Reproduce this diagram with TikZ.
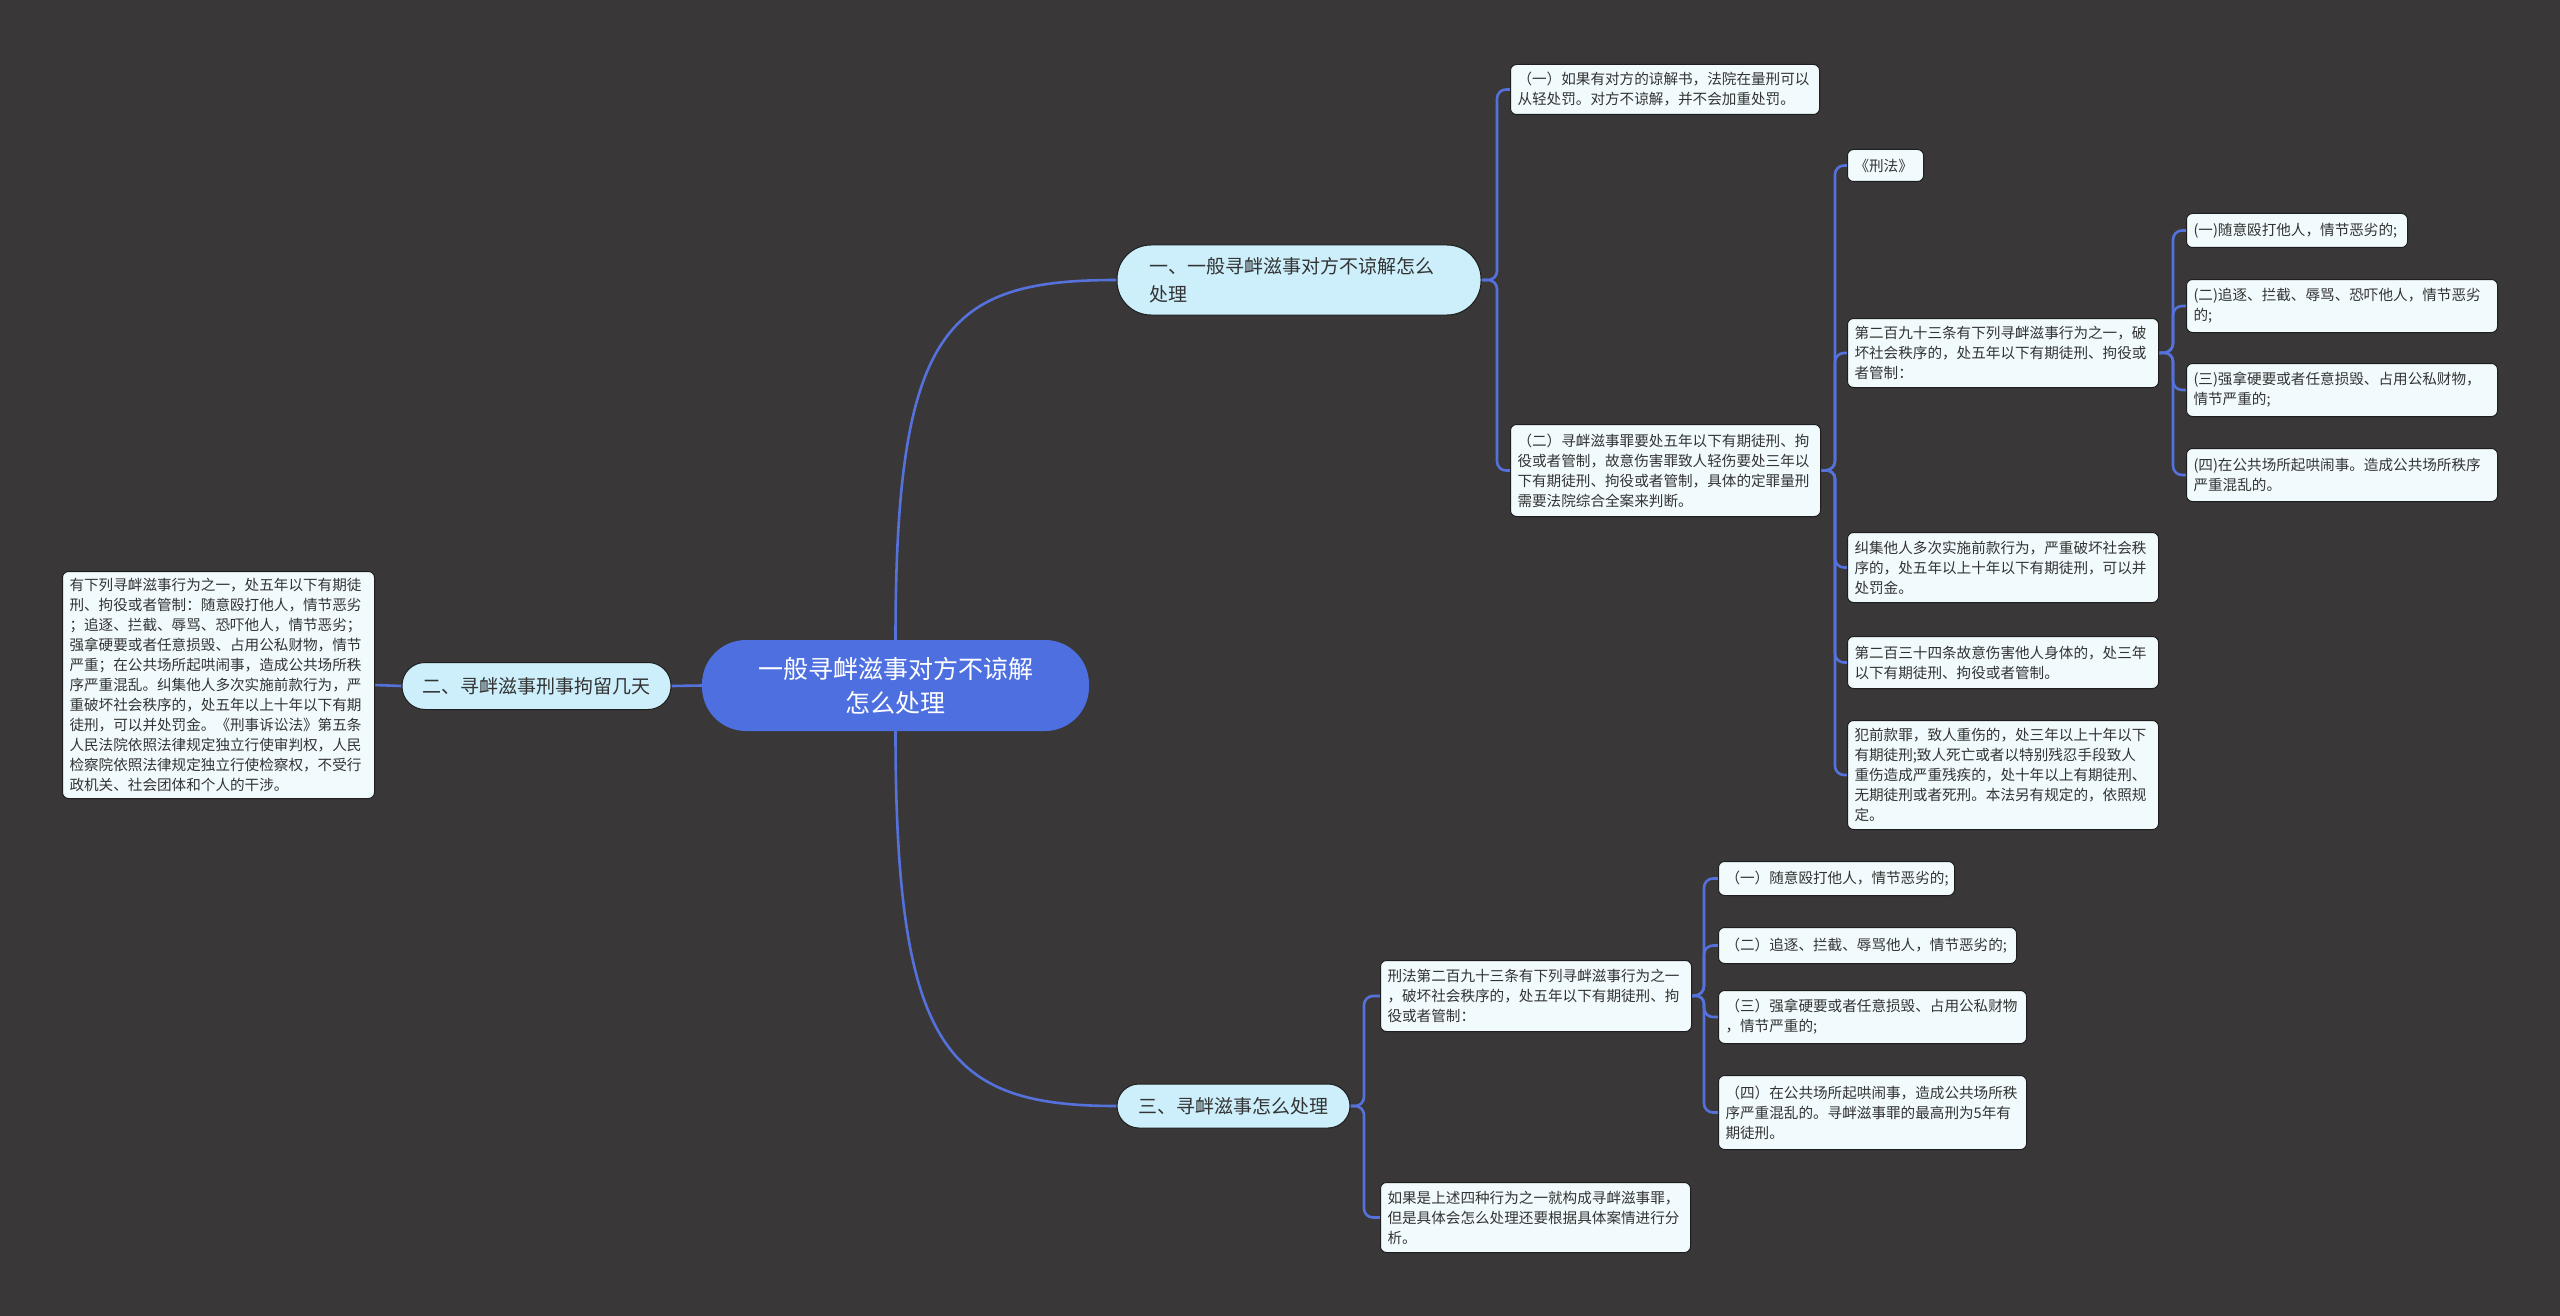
\documentclass[tikz,border=0pt]{standalone}
\usepackage{fontspec}
\setmainfont{Noto Sans CJK SC}
\usetikzlibrary{calc}
\pgfdeclarelayer{bglayer}
\pgfdeclarelayer{linelayer}
\pgfsetlayers{bglayer,linelayer,main}
\definecolor{bgc}{HTML}{393737}
\definecolor{rootc}{HTML}{4E6FE0}
\definecolor{branchc}{HTML}{CDEFFB}
\definecolor{leafc}{HTML}{F1FBFD}
\definecolor{linec}{HTML}{5571DB}
\definecolor{edgec}{HTML}{1E1E1E}
\definecolor{txt}{HTML}{333333}
\tikzset{
  x=1pt,y=-1pt,
  rootbox/.style={fill=rootc,draw=none,rounded corners=44pt,text=white,align=center,
    font=\fontsize{25}{34}\selectfont,inner sep=0pt},
  branchbox/.style={fill=branchc,draw=edgec,line width=1pt,text=txt,inner sep=0pt,
    font=\fontsize{19}{28}\selectfont},
  leafbox/.style={fill=leafc,draw=edgec,line width=1pt,rounded corners=6pt,text=txt,
    align=left,anchor=north west,inner xsep=7pt,inner ysep=0pt,
    font=\fontsize{14.6}{20}\selectfont},
  conn/.style={draw=linec,line width=2.6pt,rounded corners=9pt},
  curveconn/.style={draw=linec,line width=2.6pt},
}
\newcommand{\leaf}[6]{% name, x, y, w, h, text
  \node[leafbox,text width=#4pt-14pt,minimum height=#5pt] (#1) at (#2,#3) {#6};}
\begin{document}
\begin{tikzpicture}
\begin{pgfonlayer}{bglayer}
\fill[bgc] (0,0) rectangle (2560,1316);
\end{pgfonlayer}
\useasboundingbox (0,0) rectangle (2560,1316);

% root and main branches
\node[rootbox,minimum width=387pt,minimum height=91pt] (root) at (895.5,685.5)
  {一般寻衅滋事对方不谅解\\怎么处理};
\node[branchbox,rounded corners=34pt,minimum width=364pt,minimum height=70pt,align=left,text width=300pt]
  (n1) at (1299,280) {一、一般寻衅滋事对方不谅解怎么\\处理};
\node[branchbox,rounded corners=23pt,minimum width=269pt,minimum height=47pt]
  (n2) at (536.5,686) {二、寻衅滋事刑事拘留几天};
\node[branchbox,rounded corners=22pt,minimum width=233pt,minimum height=44pt]
  (n3) at (1233.5,1106) {三、寻衅滋事怎么处理};

% branch one
\leaf{a1}{1510}{64}{309}{50}{（一）如果有对方的谅解书，法院在量刑可以\\从轻处罚。对方不谅解，并不会加重处罚。}
\leaf{a2}{1510}{424}{310}{92}{（二）寻衅滋事罪要处五年以下有期徒刑、拘\\役或者管制，故意伤害罪致人轻伤要处三年以\\下有期徒刑、拘役或者管制，具体的定罪量刑\\需要法院综合全案来判断。}
\leaf{b1}{1847}{149}{76}{32}{《刑法》}
\leaf{b2}{1847}{318}{311}{69}{第二百九十三条有下列寻衅滋事行为之一，破\\坏社会秩序的，处五年以下有期徒刑、拘役或\\者管制：}
\leaf{b3}{1847}{532}{311}{70}{纠集他人多次实施前款行为，严重破坏社会秩\\序的，处五年以上十年以下有期徒刑，可以并\\处罚金。}
\leaf{b4}{1847}{636}{311}{52}{第二百三十四条故意伤害他人身体的，处三年\\以下有期徒刑、拘役或者管制。}
\leaf{b5}{1847}{720}{311}{109}{犯前款罪，致人重伤的，处三年以上十年以下\\有期徒刑;致人死亡或者以特别残忍手段致人\\重伤造成严重残疾的，处十年以上有期徒刑、\\无期徒刑或者死刑。本法另有规定的，依照规\\定。}
\leaf{c1}{2186}{213}{221}{34}{(一)随意殴打他人，情节恶劣的;}
\leaf{c2}{2186}{279}{311}{53}{(二)追逐、拦截、辱骂、恐吓他人，情节恶劣\\的;}
\leaf{c3}{2186}{363}{311}{53}{(三)强拿硬要或者任意损毁、占用公私财物，\\情节严重的;}
\leaf{c4}{2186}{448}{311}{53}{(四)在公共场所起哄闹事。造成公共场所秩序\\严重混乱的。}

% branch two
\leaf{l2}{62}{571}{312}{227}{有下列寻衅滋事行为之一，处五年以下有期徒\\刑、拘役或者管制：随意殴打他人，情节恶劣\\；追逐、拦截、辱骂、恐吓他人，情节恶劣；\\强拿硬要或者任意损毁、占用公私财物，情节\\严重；在公共场所起哄闹事，造成公共场所秩\\序严重混乱。纠集他人多次实施前款行为，严\\重破坏社会秩序的，处五年以上十年以下有期\\徒刑，可以并处罚金。《刑事诉讼法》第五条\\人民法院依照法律规定独立行使审判权，人民\\检察院依照法律规定独立行使检察权，不受行\\政机关、社会团体和个人的干涉。}

% branch three
\leaf{d1}{1380}{960}{311}{71}{刑法第二百九十三条有下列寻衅滋事行为之一\\，破坏社会秩序的，处五年以下有期徒刑、拘\\役或者管制：}
\leaf{d2}{1380}{1182}{310}{70}{如果是上述四种行为之一就构成寻衅滋事罪，\\但是具体会怎么处理还要根据具体案情进行分\\析。}
\leaf{e1}{1718}{861}{236}{34}{（一）随意殴打他人，情节恶劣的;}
\leaf{e2}{1718}{927}{298}{36}{（二）追逐、拦截、辱骂他人，情节恶劣的;}
\leaf{e3}{1718}{990}{308}{53}{（三）强拿硬要或者任意损毁、占用公私财物\\，情节严重的;}
\leaf{e4}{1718}{1075}{308}{74}{（四）在公共场所起哄闹事，造成公共场所秩\\序严重混乱的。寻衅滋事罪的最高刑为5年有\\期徒刑。}

% spine coordinates
\coordinate (s1) at (1497,280);
\coordinate (s2) at (1835,470);
\coordinate (s3) at (2173,352.5);
\coordinate (s4) at (1364,1106);
\coordinate (s5) at (1704,995);

% connectors (behind the nodes)
\begin{pgfonlayer}{linelayer}
\draw[curveconn] (root.north) .. controls (895.5,327) and (947,280) .. (n1.west);
\draw[curveconn] (root.south) .. controls (895.5,1050) and (947,1106) .. (n3.west);
\draw[curveconn] (root.west) -- (n2.east);
\draw[curveconn] (n2.west) -- (l2.east);
\foreach \c in {a1,a2} \draw[conn] (n1.east) -- (s1) |- (\c.west);
\foreach \c in {b1,b2,b3,b4,b5} \draw[conn] (a2.east) -- (s2) |- (\c.west);
\foreach \c in {c1,c2,c3,c4} \draw[conn] (b2.east) -- (s3) |- (\c.west);
\foreach \c in {d1,d2} \draw[conn] (n3.east) -- (s4) |- (\c.west);
\foreach \c in {e1,e2,e3,e4} \draw[conn] (d1.east) -- (s5) |- (\c.west);
\end{pgfonlayer}
\end{tikzpicture}
\end{document}
